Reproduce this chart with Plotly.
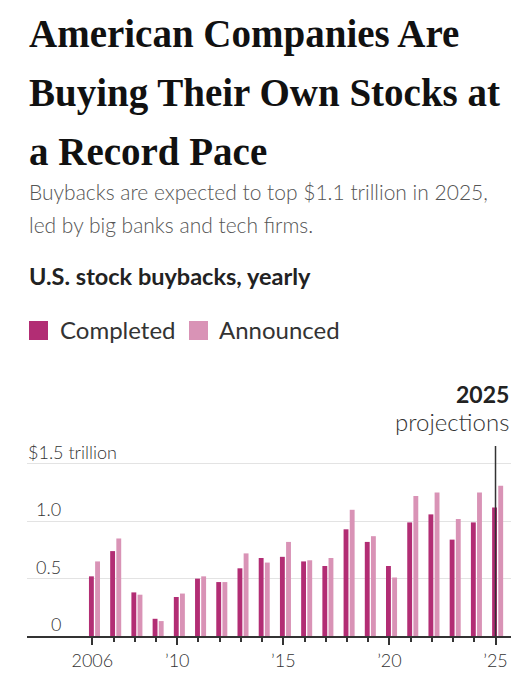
import plotly.graph_objects as go

# data (trillions of dollars)
years = list(range(2006, 2026))
completed = [0.52, 0.74, 0.38, 0.15, 0.34, 0.50, 0.47, 0.59, 0.68, 0.69,
             0.65, 0.61, 0.93, 0.82, 0.61, 0.99, 1.06, 0.84, 0.99, 1.12]
announced = [0.65, 0.85, 0.36, 0.13, 0.37, 0.52, 0.47, 0.72, 0.64, 0.82,
             0.66, 0.68, 1.10, 0.87, 0.51, 1.22, 1.25, 1.02, 1.25, 1.31]
tick_years = [2006, 2010, 2015, 2020, 2025]
tick_text = ["2006", "\u201910", "\u201915", "\u201920", "\u201925"]
grid_vals = [0.5, 1.0, 1.5]
grid_text = ["0.5", "1.0", "$1.5 trillion"]

C_DONE = "#b22d74"
C_ANN = "#d993b6"
DARK = "#222222"
SANS = "Lato, 'Open Sans', sans-serif"
SERIF = "'Liberation Serif', 'DejaVu Serif', serif"

# page body has an 8px margin, so the figure is a bit smaller than the window
OFF = 8
W, H = 513, 664
L, R, T, B = 19, 10, 438, 36
PW, PH = W - L - R, H - T - B


def xp(px):
    # window pixel -> paper x
    return (px - OFF - L) / PW


def yp(px):
    # window pixel -> paper y
    return (H - B - (px - OFF)) / PH


fig = go.Figure()
fig.add_trace(go.Bar(x=years, y=completed, name="Completed", marker_color=C_DONE,
                     width=0.23, offset=-0.16, marker_line_width=0))
fig.add_trace(go.Bar(x=years, y=announced, name="Announced", marker_color=C_ANN,
                     width=0.23, offset=0.13, marker_line_width=0))

anns = []


def text(s, x, base, size, color=DARK, family=SANS, weight=400, anchor="left", desc=0.25):
    anns.append(dict(text=s, xref="paper", yref="paper", x=xp(x),
                     y=yp(base + desc * size), xanchor=anchor, yanchor="bottom",
                     showarrow=False, borderpad=0,
                     font=dict(size=size, color=color, family=family, weight=weight)))


text("American Companies Are", 28, 43, 39, color="#111111", family=SERIF, weight=700, desc=0.36)
text("Buying Their Own Stocks at", 28, 102, 39, color="#111111", family=SERIF, weight=700, desc=0.36)
text("a Record Pace", 28, 160, 39, color="#111111", family=SERIF, weight=700, desc=0.36)
text("Buybacks are expected to top $1.1 trillion in 2025,", 28, 200, 21,
     color="#555555", weight=300, desc=0.22)
text("led by big banks and tech firms.", 28, 233, 21, color="#555555", weight=300, desc=0.22)
text("U.S. stock buybacks, yearly", 28, 285, 23.5, weight=700)
text("Completed", 59, 339, 24, color="#333333")
text("Announced", 218, 339, 24, color="#333333")
text("2025", 510, 402, 23, weight=700, anchor="right", desc=0.3)
text("projections", 510, 431, 24, color="#333333", weight=300, anchor="right")

# y labels sit above their gridlines
yfont = dict(size=18, color="#333333", family=SANS, weight=300)
for v, s in zip(grid_vals, grid_text):
    if s.startswith("$"):
        anns.append(dict(text=s, xref="paper", yref="y", x=0, y=v, xanchor="left",
                         yanchor="bottom", showarrow=False, borderpad=0, font=yfont))
    else:
        anns.append(dict(text=s, xref="paper", yref="y", x=xp(62), y=v, xanchor="right",
                         yanchor="bottom", showarrow=False, borderpad=0, font=yfont))
anns.append(dict(text="0", xref="paper", yref="y", x=xp(62), y=0, xanchor="right",
                 yanchor="bottom", showarrow=False, borderpad=0, font=yfont))

shapes = [
    dict(type="rect", xref="paper", yref="paper", x0=xp(29), x1=xp(48),
         y0=yp(340), y1=yp(321), fillcolor=C_DONE, line_width=0),
    dict(type="rect", xref="paper", yref="paper", x0=xp(189), x1=xp(208),
         y0=yp(340), y1=yp(321), fillcolor=C_ANN, line_width=0),
    dict(type="line", xref="x", yref="paper", x0=2025, x1=2025, y0=0, y1=1,
         line=dict(color="#333333", width=1.5), layer="above"),
]

fig.update_layout(
    width=W, height=H,
    margin=dict(l=L, r=R, t=T, b=B, autoexpand=False),
    paper_bgcolor="white", plot_bgcolor="white",
    showlegend=False,
    barmode="overlay",
    annotations=anns,
    shapes=shapes,
    font=dict(family=SANS, color="#333333"),
    xaxis=dict(
        range=[2002.92, 2025.73],
        tickvals=tick_years, ticktext=tick_text,
        ticks="outside", ticklen=7, tickwidth=1.5, tickcolor="#333333",
        minor=dict(tickmode="array", tickvals=years, ticks="outside", ticklen=4,
                   tickwidth=1.5, tickcolor="#333333"),
        showline=True, linecolor="#333333", linewidth=2,
        showgrid=False, zeroline=False, automargin=False,
        tickfont=dict(size=18, color="#333333", family=SANS, weight=300),
        fixedrange=True,
    ),
    yaxis=dict(
        range=[0, 1.656],
        tickvals=grid_vals, showticklabels=False,
        showgrid=True, gridcolor="#e3e3e3", gridwidth=1,
        zeroline=False, fixedrange=True, automargin=False,
    ),
)

fig.write_html("out.html")
